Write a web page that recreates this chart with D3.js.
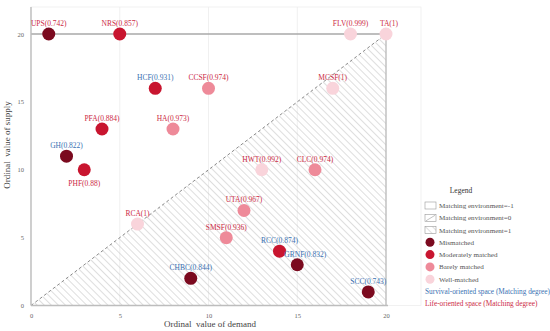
<!DOCTYPE html>
<html>
<head>
<meta charset="utf-8">
<script src="https://cdn.jsdelivr.net/npm/d3@7"></script>
<style>
  body { margin: 0; background: #fff; }
  svg { display: block; font-family: "Liberation Serif", "Times New Roman", serif; }
</style>
</head>
<body>
<svg id="chart" width="550" height="331"></svg>
<script>
// spaces
const codes = ['UPS', 'NRS', 'FLV', 'TA', 'HCF', 'CCSF', 'MCSF', 'PFA', 'HA', 'GH',
  'PHF', 'HWT', 'CLC', 'UTA', 'RCA', 'SMSF', 'RCC', 'GRNF', 'CHBC', 'SCC']
const demand = [1, 5, 18, 20, 7, 10, 17, 4, 8, 2, 3, 13, 16, 12, 6, 11, 14, 15, 9, 19]
const supply = [20, 20, 20, 20, 16, 16, 16, 13, 13, 11, 10, 10, 10, 7, 6, 5, 4, 3, 2, 1]
const degree = ['0.742', '0.857', '0.999', '1', '0.931', '0.974', '1', '0.884', '0.973', '0.822',
  '0.88', '0.992', '0.974', '0.967', '1', '0.936', '0.874', '0.832', '0.844', '0.743']
// 0 mismatched, 1 moderately, 2 barely, 3 well-matched
const level = [0, 1, 3, 3, 1, 2, 3, 1, 2, 0, 1, 3, 2, 2, 3, 2, 1, 0, 0, 0]
// S = survival-oriented, L = life-oriented
const space = ['L', 'L', 'L', 'L', 'S', 'L', 'L', 'L', 'L', 'S',
  'L', 'L', 'L', 'L', 'L', 'L', 'S', 'S', 'S', 'S']

const xTicks = [0, 5, 10, 15, 20]
const yTicks = [0, 5, 10, 15, 20]
const levelNames = ['Mismatched', 'Moderately matched', 'Barely matched', 'Well-matched']
const envNames = ['Matching environment=-1', 'Matching environment=0', 'Matching environment=1']

const levelColor = ['#7b0a1f', '#c8152f', '#ee8a99', '#f9d4db']
const spaceColor = { S: '#3b72b3', L: '#cc2a45' }
// label nudges so text doesn't sit on neighbours
const nudge = { GRNF: [8, 0], TA: [3, 0], PHF: [0, 24] }

const svg = d3.select('#chart')
const x = d3.scaleLinear().domain([0, 20]).range([31, 386])
const y = d3.scaleLinear().domain([0, 20]).range([305.5, 34])

const defs = svg.append('defs')
const hatch = defs.append('pattern')
  .attr('id', 'hatch')
  .attr('patternUnits', 'userSpaceOnUse')
  .attr('width', 5)
  .attr('height', 5)
  .attr('patternTransform', 'rotate(-45)')
hatch.append('line')
  .attr('x1', 0).attr('y1', 0).attr('x2', 0).attr('y2', 5)
  .attr('stroke', '#bdbdbd').attr('stroke-width', 1)

// faint frame and verticals
svg.append('rect')
  .attr('x', 31).attr('y', 7).attr('width', 390).attr('height', 298.5)
  .attr('fill', 'none').attr('stroke', '#eeeeee').attr('stroke-width', 0.8)
svg.append('g').selectAll('line').data([5, 10, 15]).enter().append('line')
  .attr('x1', d => x(d)).attr('x2', d => x(d))
  .attr('y1', 7).attr('y2', y(0))
  .attr('stroke', '#ececec').attr('stroke-width', 0.8)

// hatched triangle below the diagonal
svg.append('path')
  .attr('d', `M${x(0)},${y(0)}L${x(20)},${y(0)}L${x(20)},${y(20)}Z`)
  .attr('fill', 'url(#hatch)')

svg.append('line')
  .attr('x1', x(0)).attr('y1', y(0)).attr('x2', x(20)).attr('y2', y(20))
  .attr('stroke', '#8a8a8a').attr('stroke-width', 1).attr('stroke-dasharray', '3,2.5')

// supply = 20 and demand = 20 lines
svg.append('line')
  .attr('x1', x(0)).attr('x2', x(20)).attr('y1', y(20)).attr('y2', y(20))
  .attr('stroke', '#a8a8a8').attr('stroke-width', 1.3)
svg.append('line')
  .attr('x1', x(20)).attr('x2', x(20)).attr('y1', y(20)).attr('y2', y(0))
  .attr('stroke', '#b8b8b8').attr('stroke-width', 1.3)

// axes
const xAxis = svg.append('g')
  .attr('transform', `translate(0,${y(0)})`)
  .call(d3.axisBottom(x).tickValues(xTicks).tickSize(0).tickPadding(8))
const yAxis = svg.append('g')
  .attr('transform', `translate(${x(0)},0)`)
  .call(d3.axisLeft(y).tickValues(yTicks).tickSize(0).tickPadding(7))
for (const ax of [xAxis, yAxis]) {
  ax.select('.domain').remove()
  ax.selectAll('text')
    .attr('font-family', '"Liberation Serif", serif')
    .attr('font-size', '6.5px')
    .attr('fill', '#666')
}
svg.append('line')
  .attr('x1', x(0)).attr('x2', x(0)).attr('y1', 7).attr('y2', y(0))
  .attr('stroke', '#bdbdbd').attr('stroke-width', 1.4)
svg.append('line')
  .attr('x1', x(0)).attr('x2', 388).attr('y1', y(0)).attr('y2', y(0))
  .attr('stroke', '#bdbdbd').attr('stroke-width', 1.4)

svg.append('text')
  .attr('x', 210).attr('y', 327)
  .attr('text-anchor', 'middle')
  .attr('font-size', '9px')
  .attr('fill', '#444')
  .attr('xml:space', 'preserve')
  .text('Ordinal  value of demand')
svg.append('text')
  .attr('transform', 'translate(10,145) rotate(-90)')
  .attr('text-anchor', 'middle')
  .attr('font-size', '9px')
  .attr('fill', '#444')
  .attr('xml:space', 'preserve')
  .text('Ordinal  value of supply')

// points
const pts = codes.map((c, i) => ({
  code: c, dx: demand[i], sy: supply[i], deg: degree[i], lvl: level[i], sp: space[i]
}))

svg.append('g').selectAll('circle').data(pts).enter().append('circle')
  .attr('cx', d => x(d.dx))
  .attr('cy', d => y(d.sy))
  .attr('r', 6.5)
  .attr('fill', d => levelColor[d.lvl])

svg.append('g').selectAll('text').data(pts).enter().append('text')
  .attr('x', d => x(d.dx) + (nudge[d.code]?.[0] ?? 0))
  .attr('y', d => y(d.sy) - 8 + (nudge[d.code]?.[1] ?? 0))
  .attr('text-anchor', 'middle')
  .attr('font-size', '7.5px')
  .attr('fill', d => spaceColor[d.sp])
  .text(d => `${d.code}(${d.deg})`)

// legend
const lg = svg.append('g').attr('font-size', '7.1px').attr('fill', '#555')
lg.append('text')
  .attr('x', 461).attr('y', 193)
  .attr('text-anchor', 'middle')
  .attr('font-size', '7.5px')
  .attr('fill', '#333')
  .text('Legend')

envNames.forEach((name, i) => {
  const yy = 205.5 + i * 12.3
  lg.append('rect')
    .attr('x', 425).attr('y', yy - 3.5).attr('width', 11).attr('height', 7)
    .attr('fill', i === 2 ? 'url(#hatch)' : '#fff')
    .attr('stroke', '#999').attr('stroke-width', 0.6)
  if (i === 1) {
    lg.append('line')
      .attr('x1', 426).attr('y1', yy + 3).attr('x2', 435).attr('y2', yy - 2.5)
      .attr('stroke', '#999').attr('stroke-width', 0.6)
  }
  lg.append('text').attr('x', 439).attr('y', yy + 2.5).text(name)
})

levelNames.forEach((name, i) => {
  const yy = 242.3 + i * 12.3
  lg.append('circle').attr('cx', 430).attr('cy', yy).attr('r', 4.5).attr('fill', levelColor[i])
  lg.append('text').attr('x', 439).attr('y', yy + 2.5).text(name)
})

lg.append('text').attr('x', 425).attr('y', 293.5).attr('font-size', '7.3px').attr('fill', spaceColor.S)
  .text('Survival-oriented space (Matching degree)')
lg.append('text').attr('x', 425).attr('y', 306).attr('font-size', '7.3px').attr('fill', spaceColor.L)
  .text('Life-oriented space (Matching degree)')
</script>
</body>
</html>
